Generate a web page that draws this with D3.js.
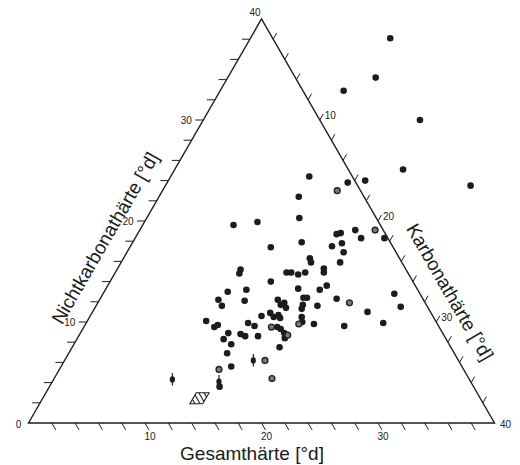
<!DOCTYPE html>
<html>
<head>
<meta charset="utf-8">
<script src="https://cdn.jsdelivr.net/npm/d3@7"></script>
<style>
  body { margin: 0; background: #fff; }
  svg { display: block; }
</style>
</head>
<body>
<svg id="chart" width="520" height="465"></svg>
<script>
// Water samples: total hardness (Gesamthärte) and non-carbonate hardness, in °d.
// Carbonate hardness follows as Gesamthärte − Nichtkarbonathärte.
const gesamt = [
  50.1, 46.9, 43.5, 48.6, 44.7, 49.7, 36.3, 39.3, 40.9, 34.4,
  33.4, 27.4, 29.6, 32.4, 29.5, 35.8, 36.2, 37.6, 37.7, 39.7,
  35.8, 34.8, 35.5, 34.7, 32.3, 32.2, 33.0, 32.8, 25.8, 25.5,
  29.6, 30.0, 30.5, 31.2, 27.8, 29.8, 32.4, 31.6, 23.6, 25.3,
  24.6, 29.8, 30.1, 32.6, 27.5, 27.5, 27.9, 27.8, 29.4, 29.1,
  30.6, 22.4, 22.4, 37.8, 37.7, 34.6, 35.4, 31.9, 29.4, 28.7,
  28.5, 25.3, 26.2, 26.3, 26.8, 26.8, 26.1, 26.3, 26.4, 26.2,
  25.3, 20.3, 20.7, 21.1, 23.8, 24.2, 21.6, 20.9, 21.3, 22.6,
  22.9, 24.0, 20.5, 20.2, 18.2
];
const nichtkarbonat = [
  38.1, 34.2, 32.9, 30.0, 25.1, 23.5, 24.4, 23.8, 24.0, 22.4,
  20.3, 19.6, 19.9, 17.9, 17.4, 18.7, 18.8, 19.1, 18.3, 18.3,
  17.8, 17.5, 16.9, 15.9, 16.3, 15.9, 15.3, 14.9, 15.2, 14.8,
  14.9, 14.9, 14.7, 14.9, 14.0, 13.3, 13.6, 13.2, 13.0, 13.2,
  12.1, 12.4, 12.4, 12.3, 12.2, 11.7, 11.9, 11.4, 11.7, 11.3,
  11.6, 12.2, 11.6, 12.8, 11.5, 11.0, 9.9, 9.6, 9.8, 10.5,
  10.0, 10.6, 10.9, 10.5, 10.7, 10.4, 9.5, 9.3, 8.9, 8.4,
  7.5, 10.1, 9.5, 9.7, 9.9, 9.6, 8.9, 8.3, 7.8, 8.8,
  8.6, 8.6, 6.9, 5.6, 3.6
];

// Samples drawn as open (ringed) symbols
const ringGesamt = [38.0, 39.3, 33.5, 28.1, 25.6, 26.6, 19.0, 23.4, 23.1];
const ringNicht  = [23.0, 19.1, 11.9, 9.8, 9.5, 8.7, 5.3, 6.2, 4.4];

// Samples drawn with a vertical stroke
const strichGesamt = [22.4, 18.4, 14.5];
const strichNicht  = [6.2, 4.1, 4.3];

// Hatched field: carbonate and non-carbonate hardness range
const feldKarbonat = [12.9, 14.0];
const feldNicht    = [1.9, 3.0];

// Axis ticks and labels
const axisMax = 40;
const tickStep = 2;
const labelValues = [10, 20, 30];
const cornerLabels = ["0", "40", "40"];
const titles = ["Gesamthärte [°d]", "Nichtkarbonathärte [°d]", "Karbonathärte [°d]"];

const svg = d3.select("#chart");
const ink = "#1e1e1e";

// Base scale runs along the bottom edge; height scale for non-carbonate hardness
const x = d3.scaleLinear().domain([0, axisMax]).range([28.5, 494.5]);
const y = d3.scaleLinear().domain([0, axisMax]).range([423, 19]);

// Position of a sample with total hardness g and non-carbonate hardness n
const px = (g, n) => x(g - n / 2);
const py = n => y(n);

const c60 = 0.5, s60 = Math.sqrt(3) / 2;

// Triangle frame: corners (G,N) = (0,0), (40,0), (40,40)
const corners = [[0, 0], [axisMax, 0], [axisMax, axisMax]];
svg.append("path")
  .attr("d", d3.line()(corners.map(([g, n]) => [px(g, n), py(n)])) + "Z")
  .attr("fill", "none")
  .attr("stroke", ink)
  .attr("stroke-width", 1.4)
  .attr("stroke-linejoin", "miter");

const ticks = d3.range(tickStep, axisMax, tickStep);
const tickG = svg.append("g").attr("stroke", ink).attr("stroke-width", 1);

// Bottom edge (Gesamthärte): ticks along lines of constant total hardness
ticks.forEach(v => {
  const x0 = px(v, 0), y0 = py(0), L = 8;
  tickG.append("line").attr("x1", x0).attr("y1", y0)
    .attr("x2", x0 + L * c60).attr("y2", y0 + L * s60);
});
// Left edge (Nichtkarbonathärte): horizontal ticks
ticks.forEach(v => {
  const x0 = px(v, v), y0 = py(v), L = 8;
  tickG.append("line").attr("x1", x0).attr("y1", y0)
    .attr("x2", x0 - L).attr("y2", y0);
});
// Right edge (Karbonathärte, 0 at the apex): ticks along lines of constant carbonate hardness
ticks.forEach(v => {
  const x0 = px(axisMax, axisMax - v), y0 = py(axisMax - v), L = 7;
  tickG.append("line").attr("x1", x0).attr("y1", y0)
    .attr("x2", x0 + L * c60).attr("y2", y0 - L * s60);
});

const labelFont = "'Liberation Sans', Arial, sans-serif";
const lab = svg.append("g")
  .attr("font-family", labelFont)
  .attr("font-size", 10)
  .attr("fill", "#222")
  .attr("text-anchor", "middle");

labelValues.forEach(v => {
  lab.append("text").attr("x", px(v, 0) + 5).attr("y", 440).text(v);
  lab.append("text").attr("x", px(v, v) - 17).attr("y", py(v) + 3.5).text(v);
  lab.append("text").attr("x", px(axisMax, axisMax - v) + 10.5)
    .attr("y", py(axisMax - v) - 1).text(v);
});
lab.append("text").attr("x", 18.5).attr("y", 428).text(cornerLabels[0]);
lab.append("text").attr("x", 505.5).attr("y", 428).text(cornerLabels[1]);
lab.append("text").attr("x", 255).attr("y", 15.5).text(cornerLabels[2]);

// Axis titles
const titleG = svg.append("g")
  .attr("font-family", labelFont)
  .attr("font-size", 19)
  .attr("fill", "#1a1a1a")
  .attr("text-anchor", "middle");
titleG.append("text").attr("x", 252).attr("y", 460).text(titles[0]);
titleG.append("text")
  .attr("transform", "translate(105,238) rotate(-60)")
  .attr("dy", "0.35em").text(titles[1]);
titleG.append("text")
  .attr("transform", "translate(450,292) rotate(60)")
  .attr("dy", "0.35em").text(titles[2]);

// Hatched field
const feldPts = [
  [feldKarbonat[0], feldNicht[0]], [feldKarbonat[1], feldNicht[0]],
  [feldKarbonat[1], feldNicht[1]], [feldKarbonat[0], feldNicht[1]]
].map(([k, n]) => [px(k + n, n), py(n)]);
svg.append("clipPath").attr("id", "feldClip")
  .append("path").attr("d", d3.line()(feldPts) + "Z");
const gLo = feldKarbonat[0] + feldNicht[0], gHi = feldKarbonat[1] + feldNicht[1];
const hatch = svg.append("g").attr("clip-path", "url(#feldClip)")
  .attr("stroke", ink).attr("stroke-width", 1.1);
d3.range(1, 5).map(i => gLo + (gHi - gLo) * i / 5).forEach(g => {
  hatch.append("line")
    .attr("x1", px(g, feldNicht[1] + 1)).attr("y1", py(feldNicht[1] + 1))
    .attr("x2", px(g, feldNicht[0] - 1)).attr("y2", py(feldNicht[0] - 1));
});
svg.append("path").attr("d", d3.line()(feldPts) + "Z")
  .attr("fill", "none").attr("stroke", ink).attr("stroke-width", 1.1);

// Filled samples
svg.append("g").selectAll("circle")
  .data(gesamt.map((g, i) => [g, nichtkarbonat[i]]))
  .join("circle")
  .attr("cx", d => px(d[0], d[1]))
  .attr("cy", d => py(d[1]))
  .attr("r", 3.3)
  .attr("fill", "#1c1c1c");

// Ringed samples
svg.append("g").selectAll("circle")
  .data(ringGesamt.map((g, i) => [g, ringNicht[i]]))
  .join("circle")
  .attr("cx", d => px(d[0], d[1]))
  .attr("cy", d => py(d[1]))
  .attr("r", 2.9)
  .attr("fill", "#7a7a7a")
  .attr("stroke", "#222")
  .attr("stroke-width", 1.4);

// Samples with vertical stroke
const strich = svg.append("g");
strichGesamt.forEach((g, i) => {
  const n = strichNicht[i], cx = px(g, n), cy = py(n);
  strich.append("line").attr("x1", cx).attr("x2", cx)
    .attr("y1", cy - 6.5).attr("y2", cy + 6)
    .attr("stroke", ink).attr("stroke-width", 1.2);
  strich.append("ellipse").attr("cx", cx).attr("cy", cy)
    .attr("rx", 2.6).attr("ry", 3.2).attr("fill", "#1c1c1c");
});
</script>
</body>
</html>
